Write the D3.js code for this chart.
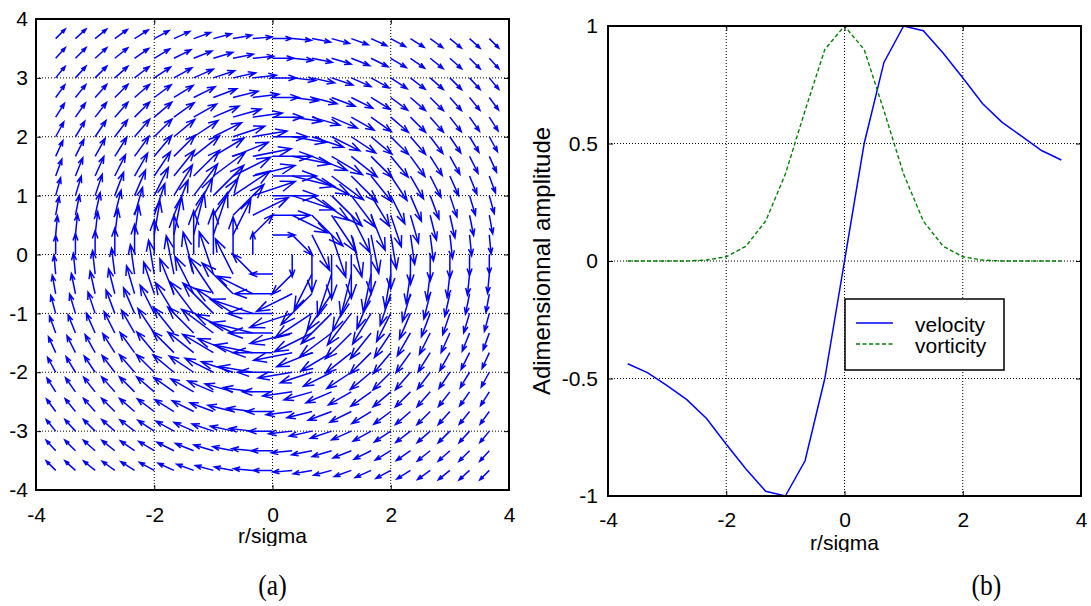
<!DOCTYPE html>
<html>
<head>
<meta charset="utf-8">
<script src="https://cdn.jsdelivr.net/npm/d3@7"></script>
<style>
  body { margin: 0; background: #ffffff; }
  svg { display: block; }
</style>
</head>
<body>
<svg id="fig" width="1091" height="606"></svg>
<script>
// ---- data -------------------------------------------------------------
// quiver sample positions along each axis (r/sigma)
const gridX = [-3.667, -3.333, -3, -2.667, -2.333, -2, -1.667, -1.333, -1, -0.667, -0.333, 0,
               0.333, 0.667, 1, 1.333, 1.667, 2, 2.333, 2.667, 3, 3.333, 3.667];
const gridY = [-3.667, -3.333, -3, -2.667, -2.333, -2, -1.667, -1.333, -1, -0.667, -0.333, 0,
               0.333, 0.667, 1, 1.333, 1.667, 2, 2.333, 2.667, 3, 3.333, 3.667];

// azimuthal speed of the vortex against distance from the core
const ringRadius = [0, 0.333, 0.667, 1, 1.333, 1.667, 2, 2.333, 2.667, 3, 3.333, 3.667, 4, 4.5, 5.2];
const ringSpeed  = [0, 0.50, 0.845, 1.0, 0.98, 0.885, 0.78, 0.67, 0.59, 0.53, 0.47, 0.43, 0.39, 0.35, 0.30];

// radial cut through the vortex
const profileX = [-3.667, -3.333, -3, -2.667, -2.333, -2, -1.667, -1.333, -1, -0.667, -0.333, 0,
                  0.333, 0.667, 1, 1.333, 1.667, 2, 2.333, 2.667, 3, 3.333, 3.667];
const velocity = [-0.437, -0.475, -0.53, -0.59, -0.67, -0.78, -0.885, -0.98, -1.0, -0.85, -0.50, 0,
                  0.50, 0.845, 1.0, 0.98, 0.885, 0.78, 0.67, 0.59, 0.53, 0.47, 0.43];
const vorticity = [0, 0, 0, 0, 0.004, 0.018, 0.063, 0.17, 0.37, 0.64, 0.90, 1.0,
                   0.90, 0.64, 0.37, 0.17, 0.063, 0.018, 0.004, 0, 0, 0, 0];

const xTicks = [-4, -2, 0, 2, 4];
const fieldYTicks = [-4, -3, -2, -1, 0, 1, 2, 3, 4];
const profileYTicks = [-1, -0.5, 0, 0.5, 1];
const seriesNames = ["velocity", "vorticity"];
const panelLabels = ["(a)", "(b)"];
const xLabel = "r/sigma";
const yLabel = "Adimensionnal amplitude";

// ---- styling ------------------------------------------------------------
const FONT = "'Liberation Sans', Arial, sans-serif";
const SERIF = "'Liberation Serif', 'Times New Roman', serif";
const BLUE = "#0000ff";
const GREEN = "#008000";

const svg = d3.select("#fig");

// ---- scales -------------------------------------------------------------
const xA = d3.scaleLinear().domain([-4, 4]).range([36, 509]);
const yA = d3.scaleLinear().domain([-4, 4]).range([490, 19]);
const xB = d3.scaleLinear().domain([-4, 4]).range([608, 1081]);
const yB = d3.scaleLinear().domain([-1, 1]).range([496, 26]);
const speedAt = d3.scaleLinear().domain(ringRadius).range(ringSpeed).clamp(true);

function gridLines(g, x, y, xs, ys) {
  const [x0, x1] = x.range();
  const [y0, y1] = y.range();
  g.selectAll("line.gx").data(xs.filter(v => v > x.domain()[0] && v < x.domain()[1]))
    .join("line").attr("class", "gx")
    .attr("x1", d => x(d)).attr("x2", d => x(d))
    .attr("y1", y0).attr("y2", y1);
  g.selectAll("line.gy").data(ys.filter(v => v > y.domain()[0] && v < y.domain()[1]))
    .join("line").attr("class", "gy")
    .attr("y1", d => y(d)).attr("y2", d => y(d))
    .attr("x1", x0).attr("x2", x1);
  g.selectAll("line")
    .attr("stroke", "#000").attr("stroke-width", 1)
    .attr("stroke-dasharray", "1,2");
}

function frame(g, x, y, xs, ys, padX, padY) {
  const [x0, x1] = x.range();
  const [y0, y1] = y.range();
  const fmt = d => String(d);
  // bottom / left labels with inward ticks
  g.append("g").attr("transform", `translate(0,${y0})`)
    .call(d3.axisBottom(x).tickValues(xs).tickFormat(fmt).tickSizeInner(-5).tickSizeOuter(0).tickPadding(padX))
    .call(a => a.select(".domain").remove());
  g.append("g").attr("transform", `translate(${x0},0)`)
    .call(d3.axisLeft(y).tickValues(ys).tickFormat(fmt).tickSizeInner(-5).tickSizeOuter(0).tickPadding(padY))
    .call(a => a.select(".domain").remove());
  // top / right inward ticks
  g.append("g").attr("transform", `translate(0,${y1})`)
    .call(d3.axisTop(x).tickValues(xs).tickFormat("").tickSizeInner(-5).tickSizeOuter(0))
    .call(a => a.select(".domain").remove());
  g.append("g").attr("transform", `translate(${x1},0)`)
    .call(d3.axisRight(y).tickValues(ys).tickFormat("").tickSizeInner(-5).tickSizeOuter(0))
    .call(a => a.select(".domain").remove());
  g.selectAll(".tick line").attr("stroke", "#000").attr("stroke-width", 1);
  g.selectAll(".tick text").attr("font-family", FONT).attr("font-size", 21).attr("fill", "#000");
  g.append("rect")
    .attr("x", x0).attr("y", y1)
    .attr("width", x1 - x0).attr("height", y0 - y1)
    .attr("fill", "none").attr("stroke", "#000").attr("stroke-width", 2);
}

// ---- panel (a): velocity field ---------------------------------------------
const gA = svg.append("g");
gridLines(gA.append("g"), xA, yA, xTicks, fieldYTicks);

const ARROW = 0.76;      // data units of arrow per unit of speed
const HEAD_LEN = 0.33;   // arrow head length relative to the shaft
const HEAD_WID = 0.36;   // arrow head half-width relative to the head length

const arrows = [];
gridY.forEach(gy => gridX.forEach(gx => {
  const r = Math.hypot(gx, gy);
  if (r === 0) return;
  const s = speedAt(r) * ARROW;
  // clockwise rotation
  arrows.push({ gx, gy, u: s * gy / r, v: -s * gx / r });
}));

gA.append("g")
  .selectAll("path")
  .data(arrows)
  .join("path")
  .attr("d", a => {
    const tx = xA(a.gx), ty = yA(a.gy);
    const hx = xA(a.gx + a.u), hy = yA(a.gy + a.v);
    const du = hx - tx, dv = hy - ty;
    const l1x = hx - HEAD_LEN * (du + HEAD_WID * dv), l1y = hy - HEAD_LEN * (dv - HEAD_WID * du);
    const l2x = hx - HEAD_LEN * (du - HEAD_WID * dv), l2y = hy - HEAD_LEN * (dv + HEAD_WID * du);
    return `M${tx},${ty}L${hx},${hy}M${l1x},${l1y}L${hx},${hy}L${l2x},${l2y}`;
  })
  .attr("fill", "none")
  .attr("stroke", BLUE)
  .attr("stroke-width", 1.5)
  .attr("stroke-linejoin", "miter");

frame(gA, xA, yA, xTicks, fieldYTicks, 17, 8);

// ---- panel (b): radial profiles -----------------------------------------
const gB = svg.append("g");
gridLines(gB.append("g"), xB, yB, xTicks, profileYTicks);

const line = d3.line().x((d, i) => xB(profileX[i])).y(d => yB(d));
gB.append("path").datum(velocity)
  .attr("d", line).attr("fill", "none")
  .attr("stroke", BLUE).attr("stroke-width", 1.5);
gB.append("path").datum(vorticity)
  .attr("d", line).attr("fill", "none")
  .attr("stroke", GREEN).attr("stroke-width", 1.4)
  .attr("stroke-dasharray", "4,2.5");

frame(gB, xB, yB, xTicks, profileYTicks, 16, 10);

// legend
const leg = gB.append("g").attr("transform", "translate(845,299)");
leg.append("rect").attr("width", 159).attr("height", 71)
  .attr("fill", "#fff").attr("stroke", "#000").attr("stroke-width", 1.5);
const legColors = [BLUE, GREEN];
const legDash = [null, "4,2.5"];
seriesNames.forEach((name, i) => {
  const yy = 24 + i * 21;
  leg.append("line").attr("x1", 11).attr("x2", 48).attr("y1", yy).attr("y2", yy)
    .attr("stroke", legColors[i]).attr("stroke-width", 1.4)
    .attr("stroke-dasharray", legDash[i]);
  leg.append("text").attr("x", 70).attr("y", yy + 9)
    .attr("font-family", FONT).attr("font-size", 21).attr("fill", "#000")
    .text(name);
});

// ---- axis titles ----------------------------------------------------------
const defs = svg.append("defs");
defs.append("clipPath").attr("id", "clipA")
  .append("rect").attr("x", 0).attr("y", 526).attr("width", 545).attr("height", 20);
defs.append("clipPath").attr("id", "clipB")
  .append("rect").attr("x", 545).attr("y", 530).attr("width", 546).attr("height", 22);

svg.append("text").attr("clip-path", "url(#clipA)")
  .attr("x", xA(0)).attr("y", 543).attr("text-anchor", "middle")
  .attr("font-family", FONT).attr("font-size", 21).text(xLabel);
svg.append("text").attr("clip-path", "url(#clipB)")
  .attr("x", xB(0)).attr("y", 550).attr("text-anchor", "middle")
  .attr("font-family", FONT).attr("font-size", 21).text(xLabel);

svg.append("text")
  .attr("transform", `translate(550,${(yB.range()[0] + yB.range()[1]) / 2}) rotate(-90)`)
  .attr("text-anchor", "middle")
  .attr("font-family", FONT).attr("font-size", 24).text(yLabel);

// panel captions
[[xA(0), panelLabels[0]], [xB(2.4), panelLabels[1]]].forEach(([cx, t]) => {
  svg.append("text")
    .attr("transform", `translate(${cx},595) scale(0.85,1)`)
    .attr("text-anchor", "middle")
    .attr("font-family", SERIF).attr("font-size", 30).text(t);
});
</script>
</body>
</html>
